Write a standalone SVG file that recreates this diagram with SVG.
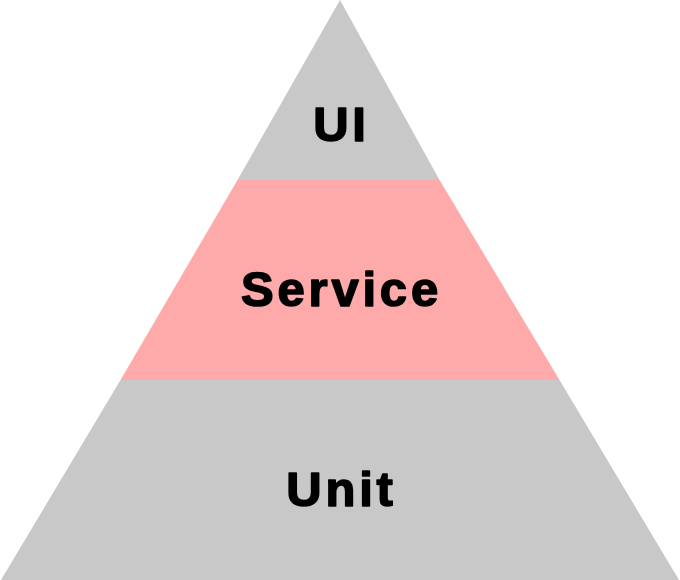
<svg xmlns="http://www.w3.org/2000/svg" width="680" height="580" viewBox="0 0 680 580">
<style>
.gray{fill:#c8c8c8}
.pink{fill:#ffaaaa}
.lbl{font-family:"Liberation Sans",Arial,sans-serif;font-weight:bold;font-size:49px;letter-spacing:3.8px;fill:#000;stroke:#000;stroke-width:1.6px;stroke-linejoin:round;text-anchor:middle}
</style>
<rect width="680" height="580" fill="#fff"/>
<g id="ui">
<polygon class="gray" points="340,0 439.5,180 237.5,180"/>
<text class="lbl" x="341.5" y="141">UI</text>
</g>
<g id="service">
<polygon class="pink" points="237.5,180 439.5,180 559.5,380 120.5,380"/>
<text class="lbl" x="341.5" y="306">Service</text>
</g>
<g id="unit">
<polygon class="gray" points="120.5,380 559.5,380 679,580 1,580"/>
<text class="lbl" x="341.5" y="506">Unit</text>
</g>
<g id="connectors"></g>
</svg>
